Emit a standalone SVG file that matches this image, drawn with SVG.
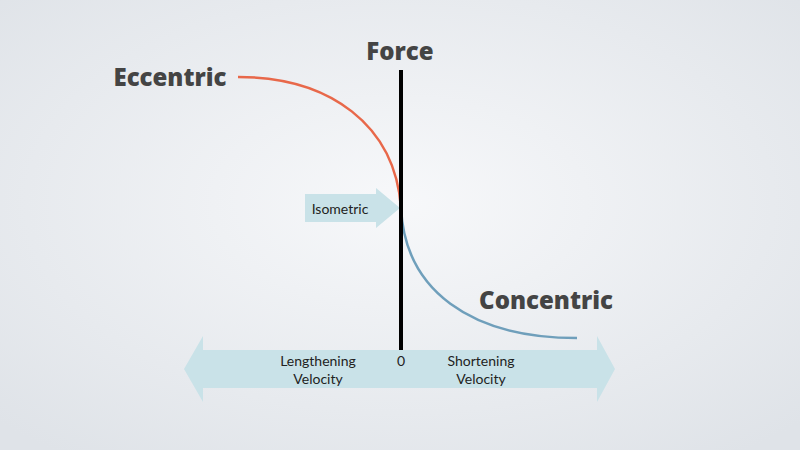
<svg xmlns="http://www.w3.org/2000/svg" width="800" height="450" viewBox="0 0 800 450">
<defs>
<radialGradient id="bg" cx="50%" cy="45%" r="70%"><stop offset="0" stop-color="#f7f8fa"/><stop offset="1" stop-color="#dfe3e8"/></radialGradient>
<style>
.big{font-family:"Open Sans","DejaVu Sans",sans-serif;font-weight:800;font-size:24px;fill:#444}
.sm{font-family:"Lato","Liberation Sans",sans-serif;font-size:14px;fill:#222}
</style>
</defs>
<rect width="800" height="450" fill="url(#bg)"/>
<g id="velocity-axis">
<polygon points="184,369 203,336 203,350 597,350 597,336 615,369 597,402 597,388 203,388 203,402" fill="#c9e2e8"/>
<text class="sm" x="318" y="366" text-anchor="middle">Lengthening</text>
<text class="sm" x="318" y="384" text-anchor="middle">Velocity</text>
<text class="sm" x="401" y="366" text-anchor="middle">0</text>
<text class="sm" x="481" y="366" text-anchor="middle">Shortening</text>
<text class="sm" x="481" y="384" text-anchor="middle">Velocity</text>
</g>
<g id="isometric">
<polygon points="305,194 376,194 376,188 400,208 376,228 376,222 305,222" fill="#c9e2e8"/>
<text class="sm" x="340" y="214" text-anchor="middle">Isometric</text>
</g>
<g id="connectors" fill="none" stroke-width="2.5">
<path d="M238,77 C330,77 395,125 401,208" stroke="#e8684a"/>
<path d="M401,208 C405,290 470,338 577,338" stroke="#6f9fbb"/>
<line x1="401" y1="70" x2="401" y2="350" stroke="#000" stroke-width="4"/>
</g>
<g id="force"><text class="big" x="400" y="60" text-anchor="middle">Force</text></g>
<g id="eccentric"><text class="big" x="170" y="86" text-anchor="middle">Eccentric</text></g>
<g id="concentric"><text class="big" x="546" y="309" text-anchor="middle">Concentric</text></g>
</svg>
